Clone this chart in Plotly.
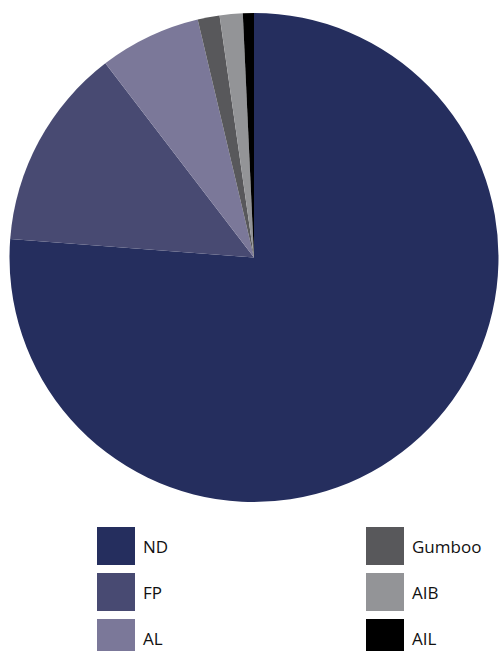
import plotly.graph_objects as go

labels = ["ND", "FP", "AL", "Gumboo", "AIB", "AIL"]
values = [76.2, 13.4, 6.7, 1.45, 1.52, 0.73]
colors = ["#252e5e", "#484a72", "#7b7899", "#58585b", "#939497", "#000000"]

W, H = 499, 651

fig = go.Figure()
fig.add_trace(go.Pie(
    labels=labels, values=values, sort=False, direction="clockwise", rotation=0,
    marker=dict(colors=colors, line=dict(width=0)),
    textinfo="none", hoverinfo="label+percent",
    domain=dict(x=[9.5 / W, 498.5 / W], y=[1 - 502 / H, 1 - 13 / H]),
    showlegend=False,
))

# custom legend with large swatches (two columns of three)
col_x = [97, 366]
row_y = [527, 573, 619]
sw = 38
shapes, annotations = [], []
for i, (lab, col) in enumerate(zip(labels, colors)):
    cx = col_x[i // 3]
    ry = row_y[i % 3]
    shapes.append(dict(type="rect", xref="paper", yref="paper",
                       x0=cx / W, x1=(cx + sw) / W,
                       y0=1 - (ry + sw) / H, y1=1 - ry / H,
                       fillcolor=col, line=dict(width=0)))
    annotations.append(dict(xref="paper", yref="paper",
                            x=(cx + sw + 6) / W, y=1 - (ry + sw / 2) / H,
                            text=lab, showarrow=False, xanchor="left", yanchor="middle",
                            font=dict(family="Open Sans", size=17, color="#111111")))

fig.update_layout(
    width=W, height=H, margin=dict(l=0, r=0, t=0, b=0),
    paper_bgcolor="white", plot_bgcolor="white",
    shapes=shapes, annotations=annotations,
)
fig.write_html("out.html", config={"displayModeBar": False},
               post_script="document.body.style.margin='0';document.body.style.padding='0';document.body.style.overflow='hidden';")
